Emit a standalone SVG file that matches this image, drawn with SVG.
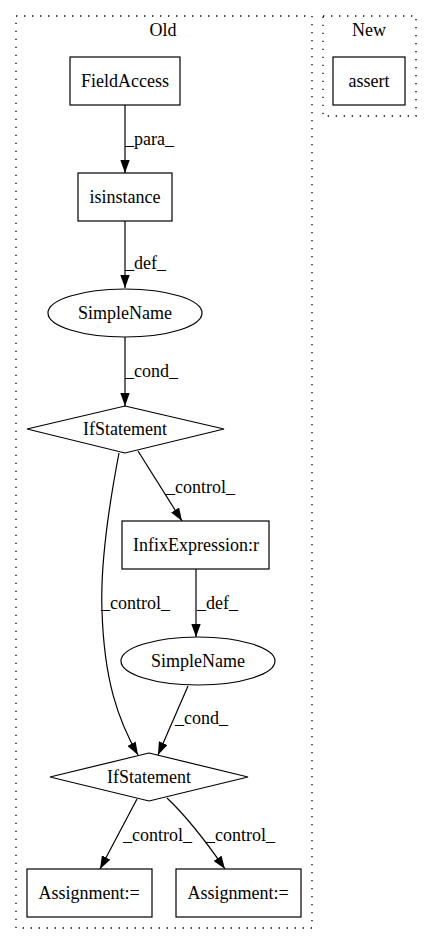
<svg xmlns="http://www.w3.org/2000/svg" width="432" height="944" viewBox="0 0 432 944">
<style>
text{font-family:"Liberation Serif","Times New Roman",serif;font-size:18px;fill:#000}
.c{text-anchor:middle}
.cl{fill:none;stroke:#000;stroke-width:1.3;stroke-dasharray:1.3,6.7}
.n{fill:#fff;stroke:#000;stroke-width:1.2}
.e{fill:none;stroke:#000;stroke-width:1.2;marker-end:url(#ah)}
</style>
<defs>
<marker id="ah" viewBox="0 0 13 9.4" refX="13" refY="4.7" markerWidth="13" markerHeight="9.4" markerUnits="userSpaceOnUse" orient="auto">
<path d="M0,0 L13,4.7 L0,9.4 Z" fill="#000"/>
</marker>
</defs>
<rect width="432" height="944" fill="#fff"/>
<g id="cluster_old">
<rect class="cl" x="16" y="16" width="296" height="912"/>
<text class="c" x="163" y="36">Old</text>
</g>
<g id="cluster_new">
<rect class="cl" x="323" y="16" width="93" height="100"/>
<text class="c" x="369" y="36">New</text>
</g>
<g id="edges">
<path class="e" d="M125,105 L125,173"/>
<text x="125" y="145">_para_</text>
<path class="e" d="M125,221 L125,288"/>
<text x="125" y="269">_def_</text>
<path class="e" d="M125,337 L125,406"/>
<text x="125" y="377">_cond_</text>
<path class="e" d="M138,451 L182,521"/>
<text x="166" y="493">_control_</text>
<path class="e" d="M119,453 C110,500 100,560 102,610 C104,680 118,720 138,755"/>
<text x="101" y="609">_control_</text>
<path class="e" d="M196,569 L196,637"/>
<text x="197" y="609">_def_</text>
<path class="e" d="M188,686 L158,755"/>
<text x="175" y="724">_cond_</text>
<path class="e" d="M137,799 L100,869"/>
<text x="123" y="841">_control_</text>
<path class="e" d="M167,798 C185,815 205,840 225,869"/>
<text x="206" y="841">_control_</text>
</g>
<g id="n_fieldaccess">
<rect class="n" x="70" y="57" width="110" height="48"/>
<text class="c" x="125" y="87">FieldAccess</text>
</g>
<g id="n_assert">
<rect class="n" x="333" y="57" width="72" height="48"/>
<text class="c" x="369" y="87">assert</text>
</g>
<g id="n_isinstance">
<rect class="n" x="78" y="173" width="94" height="48"/>
<text class="c" x="125" y="203">isinstance</text>
</g>
<g id="n_simplename1">
<ellipse class="n" cx="125" cy="313" rx="77" ry="24"/>
<text class="c" x="125" y="319">SimpleName</text>
</g>
<g id="n_if1">
<polygon class="n" points="125,406 224,429 125,453 27,429"/>
<text class="c" x="125" y="435">IfStatement</text>
</g>
<g id="n_infix">
<rect class="n" x="122" y="521" width="147" height="48"/>
<text class="c" x="196" y="551">InfixExpression:r</text>
</g>
<g id="n_simplename2">
<ellipse class="n" cx="198" cy="661" rx="77" ry="24"/>
<text class="c" x="198" y="667">SimpleName</text>
</g>
<g id="n_if2">
<polygon class="n" points="149,753 248,777 149,801 50,777"/>
<text class="c" x="149" y="783">IfStatement</text>
</g>
<g id="n_assign1">
<rect class="n" x="27" y="869" width="125" height="48"/>
<text class="c" x="89" y="899">Assignment:=</text>
</g>
<g id="n_assign2">
<rect class="n" x="176" y="869" width="125" height="48"/>
<text class="c" x="238" y="899">Assignment:=</text>
</g>
</svg>
